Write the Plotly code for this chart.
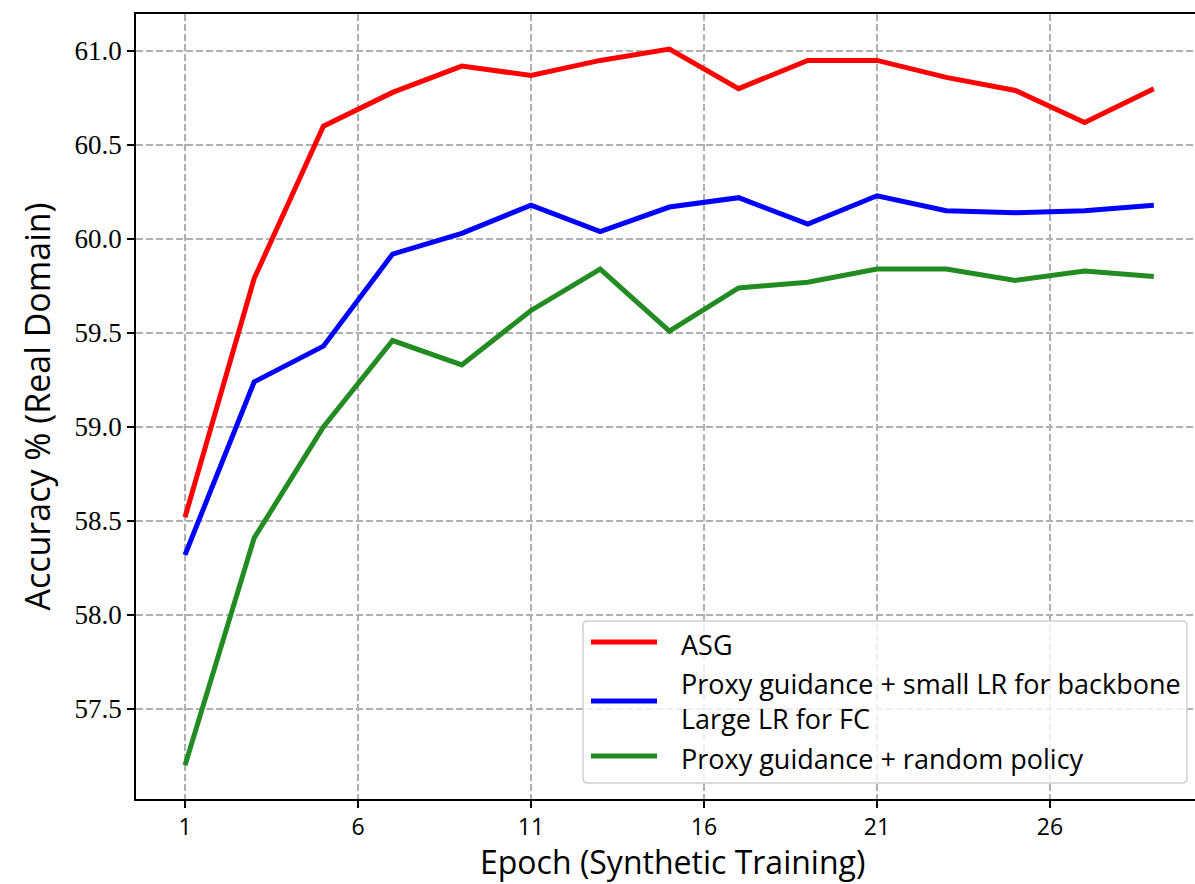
import plotly.graph_objects as go

# Evaluation epochs (every other epoch of synthetic training)
epochs = [1, 3, 5, 7, 9, 11, 13, 15, 17, 19, 21, 23, 25, 27, 29]

# Real-domain accuracy (%) for each training configuration
acc_asg = [58.52, 59.79, 60.60, 60.78, 60.92, 60.87, 60.95, 61.01,
           60.80, 60.95, 60.95, 60.86, 60.79, 60.62, 60.80]
acc_proxy_lr = [58.32, 59.24, 59.43, 59.92, 60.03, 60.18, 60.04, 60.17,
                60.22, 60.08, 60.23, 60.15, 60.14, 60.15, 60.18]
acc_proxy_random = [57.20, 58.41, 59.00, 59.46, 59.33, 59.62, 59.84, 59.51,
                    59.74, 59.77, 59.84, 59.84, 59.78, 59.83, 59.80]

series_labels = [
    "ASG",
    "Proxy guidance + small LR for backbone<br>Large LR for FC",
    "Proxy guidance + random policy",
]
series_colors = ["#ff0000", "#0000ff", "#228b22"]

x_ticks = [1, 6, 11, 16, 21, 26]
y_ticks = [57.5, 58.0, 58.5, 59.0, 59.5, 60.0, 60.5, 61.0]

SANS = "'Open Sans', Lato, sans-serif"
SERIF = "'Liberation Serif', 'DejaVu Serif', serif"

W, H = 1195, 884
M_L, M_R, M_T, M_B = 136, 0, 14, 85
PW, PH = W - M_L - M_R, H - M_T - M_B


def px(x):
    """Horizontal pixel position -> paper fraction."""
    return (x - M_L) / PW


def py(y):
    """Vertical pixel position (from top) -> paper fraction."""
    return (H - M_B - y) / PH


fig = go.Figure()
for label, ys, col in zip(series_labels, [acc_asg, acc_proxy_lr, acc_proxy_random], series_colors):
    fig.add_trace(go.Scatter(
        x=epochs, y=ys, mode="lines", name=label.replace("<br>", " "),
        line=dict(color=col, width=5), showlegend=False,
    ))

# Legend drawn as a framed box with line samples and labels
bx0, bx1, by0, by1, r = 583, 1187, 621, 783, 5
rx, ry = r / PW, r / PH
X0, X1, Y0, Y1 = px(bx0), px(bx1), py(by1), py(by0)
box_path = (
    f"M {X0 + rx},{Y0} L {X1 - rx},{Y0} Q {X1},{Y0} {X1},{Y0 + ry} "
    f"L {X1},{Y1 - ry} Q {X1},{Y1} {X1 - rx},{Y1} "
    f"L {X0 + rx},{Y1} Q {X0},{Y1} {X0},{Y1 - ry} "
    f"L {X0},{Y0 + ry} Q {X0},{Y0} {X0 + rx},{Y0} Z"
)
shapes = [dict(type="path", xref="paper", yref="paper", path=box_path,
               fillcolor="rgba(255,255,255,0.8)", line=dict(color="#cfcfcf", width=1.5), layer="above")]

sample_y = [642, 701, 756]
text_mid_y = [644, 701, 758]
LEG_FS = 27
annotations = []
for col, sy, label, ty in zip(series_colors, sample_y, series_labels, text_mid_y):
    shapes.append(dict(type="line", xref="paper", yref="paper",
                       x0=px(591), x1=px(657), y0=py(sy), y1=py(sy),
                       line=dict(color=col, width=5), layer="above"))
    annotations.append(dict(
        xref="paper", yref="paper", x=px(679), y=py(ty),
        xanchor="left", yanchor="middle", align="left", showarrow=False, text=label,
        font=dict(family=SANS, size=LEG_FS, color="black"),
    ))

# x-axis title, set just above the bottom edge of the figure
annotations.append(dict(
    xref="paper", yref="paper", x=px(672), y=py(885),
    xanchor="center", yanchor="bottom", showarrow=False,
    text="Epoch (Synthetic Training)",
    font=dict(family=SANS, size=32, color="black"),
))

grid_style = dict(showgrid=True, gridcolor="#b0b0b0", gridwidth=1.5, griddash="7px,3px")

fig.update_layout(
    width=W, height=H,
    margin=dict(l=M_L, r=M_R, t=M_T, b=M_B),
    paper_bgcolor="white", plot_bgcolor="white",
    shapes=shapes, annotations=annotations,
    xaxis=dict(
        range=[-0.416, 30.19], tickvals=x_ticks, ticktext=[str(t) for t in x_ticks],
        ticks="outside", ticklen=7, tickwidth=1.5, tickcolor="black",
        showline=True, linecolor="black", linewidth=1.5, mirror=True,
        tickfont=dict(family=SANS, size=23, color="black"),
        zeroline=False, **grid_style,
    ),
    yaxis=dict(
        range=[57.021, 61.197], tickvals=y_ticks, ticktext=[f"{t:.1f}" for t in y_ticks],
        ticks="outside", ticklen=7, tickwidth=1.5, tickcolor="black",
        showline=True, linecolor="black", linewidth=1.5, mirror=False,
        tickfont=dict(family=SERIF, size=27, color="black"),
        title=dict(text="Accuracy % (Real Domain)", font=dict(family=SANS, size=34, color="black"), standoff=14),
        zeroline=False, **grid_style,
    ),
)

fig.write_html("out.html")
